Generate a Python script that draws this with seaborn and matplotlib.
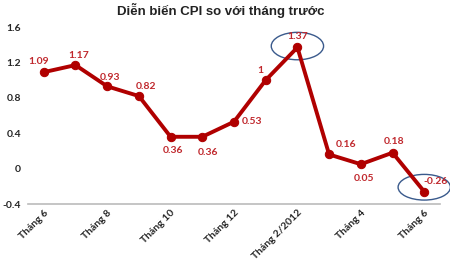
import matplotlib
matplotlib.use("Agg")
import matplotlib.pyplot as plt
from matplotlib.patches import Ellipse
import seaborn as sns
import pandas as pd

months = ["Tháng 6", "Tháng 7", "Tháng 8", "Tháng 9", "Tháng 10", "Tháng 11", "Tháng 12",
          "Tháng 1", "Tháng 2/2012", "Tháng 3", "Tháng 4", "Tháng 5", "Tháng 6"]
cpi = [1.09, 1.17, 0.93, 0.82, 0.36, 0.36, 0.53, 1, 1.37, 0.16, 0.05, 0.18, -0.26]
value_labels = ["1.09", "1.17", "0.93", "0.82", "0.36", "0.36", "0.53", "1", "1.37", "0.16", "0.05", "0.18", "-0.26"]
y_ticks = [-0.4, 0, 0.4, 0.8, 1.2, 1.6]
y_tick_labels = ["-0.4", "0", "0.4", "0.8", "1.2", "1.6"]

sns.set_theme(style="white")
plt.rcParams['font.family'] = ['Lato', 'DejaVu Sans']

df = pd.DataFrame({"idx": range(len(cpi)), "cpi": cpi})

fig = plt.figure(figsize=(4.5, 2.65), dpi=100)
ax = fig.add_axes([0.062, 0.23, 0.916, 0.668])

red = "#B00000"
sns.lineplot(data=df, x="idx", y="cpi", ax=ax, color=red, linewidth=2.8,
             marker="o", markersize=6, markeredgecolor=red, markerfacecolor=red)

# label offsets (points)
offsets = [(-4, 8), (2, 7), (2, 6), (5, 7), (2, -10), (4, -11), (13, 0), (-4, 7),
           (0, 8), (12, 7), (2, -10), (1, 8), (8, 7)]
for i, (v, lab) in enumerate(zip(cpi, value_labels)):
    dx, dy = offsets[i]
    ax.annotate(lab, (i, v), xytext=(dx, dy), textcoords="offset points",
                ha="center", va="center", fontsize=7.5, fontweight="bold", color="#C0282D")

ax.add_patch(Ellipse((8, 1.385), 1.65, 0.31, fill=False, edgecolor="#3A5A8C", linewidth=1.0))
ax.add_patch(Ellipse((12.0, -0.21), 1.65, 0.29, fill=False, edgecolor="#3A5A8C", linewidth=1.0, clip_on=False))

ax.set_xlim(-0.5, 12.5)
ax.set_ylim(-0.4, 1.6)
ax.set_yticks(y_ticks)
ax.set_yticklabels(y_tick_labels, fontsize=7.5, fontweight="bold")
tick_pos = list(range(0, 13, 2))
ax.set_xticks(tick_pos)
ax.set_xticklabels([months[i] for i in tick_pos], rotation=45, ha="right",
                   rotation_mode="anchor", fontsize=7.5, fontweight="bold")
ax.tick_params(axis="x", length=0, pad=3)
ax.tick_params(axis="y", length=0, pad=5)
ax.set_xlabel("")
ax.set_ylabel("")
for s in ["top", "right", "left"]:
    ax.spines[s].set_visible(False)
ax.spines["bottom"].set_color("#BBBBBB")
ax.spines["bottom"].set_linewidth(1.2)

fig.text(0.49, 0.962, "Diễn biến CPI so với tháng trước", ha="center", va="center",
         fontsize=9.5, fontweight="bold", color="#222222", family=["Liberation Sans", "DejaVu Sans"])

fig.savefig("out.png", dpi=100)
